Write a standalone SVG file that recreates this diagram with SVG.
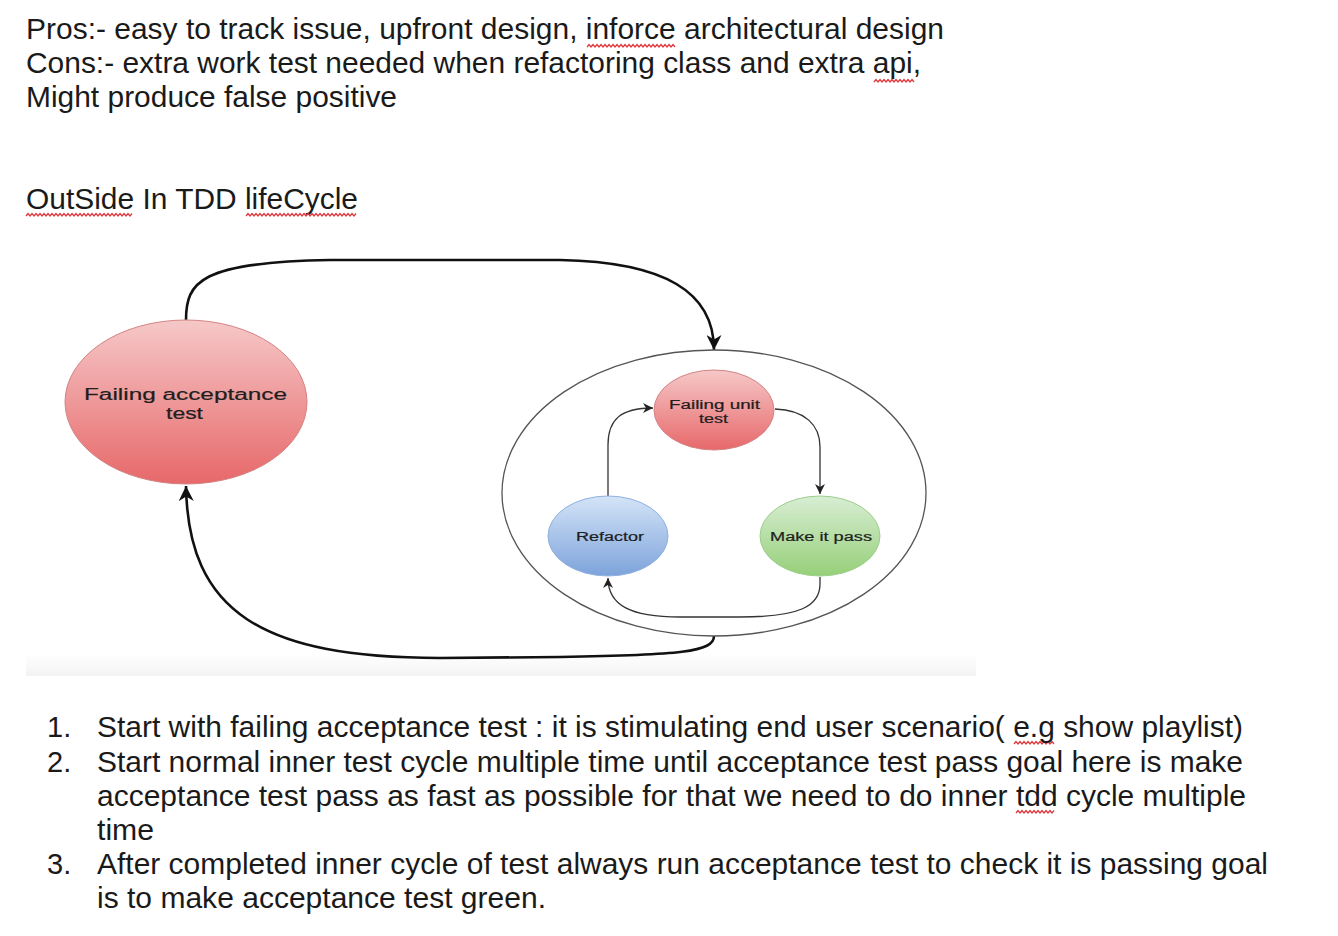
<svg xmlns="http://www.w3.org/2000/svg" width="1338" height="936" viewBox="0 0 1338 936">
<style>
.doc{font-family:"Liberation Sans",Arial,Helvetica,sans-serif;font-size:29px;fill:#1a1a1a}
.lbl{font-family:"Liberation Sans",Arial,Helvetica,sans-serif;fill:#1e1e1e;stroke:#1e1e1e;stroke-width:0.2}
.big{font-size:16px}
.sm{font-size:12px}
.outer{fill:none;stroke:#111;stroke-width:2.6}
.inner{fill:none;stroke:#333;stroke-width:1.3}
.sq{fill:none;stroke:#e0393e;stroke-width:1.3}
</style>
<defs>
<linearGradient id="gr" x1="0" y1="0" x2="0" y2="1"><stop offset="0" stop-color="#f6c8c8"/><stop offset="1" stop-color="#e7686a"/></linearGradient>
<linearGradient id="gb" x1="0" y1="0" x2="0" y2="1"><stop offset="0" stop-color="#d4e4f7"/><stop offset="1" stop-color="#7da3db"/></linearGradient>
<linearGradient id="gg" x1="0" y1="0" x2="0" y2="1"><stop offset="0" stop-color="#d8eed4"/><stop offset="1" stop-color="#96cf78"/></linearGradient>
<linearGradient id="band" x1="0" y1="0" x2="0" y2="1"><stop offset="0" stop-color="#ffffff"/><stop offset="1" stop-color="#f3f3f3"/></linearGradient>
<marker id="ah" viewBox="0 0 10 10" refX="10" refY="5" markerWidth="15" markerHeight="15" markerUnits="userSpaceOnUse" orient="auto"><path d="M0,0 L10,5 L0,10 L3,5 z" fill="#111"/></marker>
<marker id="ahs" viewBox="0 0 10 10" refX="10" refY="5" markerWidth="10" markerHeight="10" markerUnits="userSpaceOnUse" orient="auto"><path d="M0,0 L10,5 L0,10 L3,5 z" fill="#222"/></marker>
</defs>
<rect width="1338" height="936" fill="#ffffff"/>

<g id="header-text">
<text class="doc" x="26" y="39" textLength="918" lengthAdjust="spacingAndGlyphs">Pros:- easy to track issue, upfront design, inforce architectural design</text>
<text class="doc" x="26" y="73" textLength="895" lengthAdjust="spacingAndGlyphs">Cons:- extra work test needed when refactoring class and extra api,</text>
<text class="doc" x="26" y="107" textLength="371" lengthAdjust="spacingAndGlyphs">Might produce false positive</text>
<text class="doc" x="26" y="209" textLength="332" lengthAdjust="spacingAndGlyphs">OutSide In TDD lifeCycle</text>
</g>

<g id="spellcheck">
<path class="sq" d="M587,47 l2,-2.5 l2,2.5 l2,-2.5 l2,2.5 l2,-2.5 l2,2.5 l2,-2.5 l2,2.5 l2,-2.5 l2,2.5 l2,-2.5 l2,2.5 l2,-2.5 l2,2.5 l2,-2.5 l2,2.5 l2,-2.5 l2,2.5 l2,-2.5 l2,2.5 l2,-2.5 l2,2.5 l2,-2.5 l2,2.5 l2,-2.5 l2,2.5 l2,-2.5 l2,2.5 l2,-2.5 l2,2.5 l2,-2.5 l2,2.5 l2,-2.5 l2,2.5 l2,-2.5 l2,2.5 l2,-2.5 l2,2.5 l2,-2.5 l2,2.5 l2,-2.5 l2,2.5 l2,-2.5 l2,2.5"/>
<path class="sq" d="M874,82 l2,-2.5 l2,2.5 l2,-2.5 l2,2.5 l2,-2.5 l2,2.5 l2,-2.5 l2,2.5 l2,-2.5 l2,2.5 l2,-2.5 l2,2.5 l2,-2.5 l2,2.5 l2,-2.5 l2,2.5 l2,-2.5 l2,2.5 l2,-2.5 l2,2.5"/>
<path class="sq" d="M26,216 l2,-2.5 l2,2.5 l2,-2.5 l2,2.5 l2,-2.5 l2,2.5 l2,-2.5 l2,2.5 l2,-2.5 l2,2.5 l2,-2.5 l2,2.5 l2,-2.5 l2,2.5 l2,-2.5 l2,2.5 l2,-2.5 l2,2.5 l2,-2.5 l2,2.5 l2,-2.5 l2,2.5 l2,-2.5 l2,2.5 l2,-2.5 l2,2.5 l2,-2.5 l2,2.5 l2,-2.5 l2,2.5 l2,-2.5 l2,2.5 l2,-2.5 l2,2.5 l2,-2.5 l2,2.5 l2,-2.5 l2,2.5 l2,-2.5 l2,2.5 l2,-2.5 l2,2.5 l2,-2.5 l2,2.5 l2,-2.5 l2,2.5 l2,-2.5 l2,2.5 l2,-2.5 l2,2.5 l2,-2.5 l2,2.5 l2,-2.5"/>
<path class="sq" d="M246,216 l2,-2.5 l2,2.5 l2,-2.5 l2,2.5 l2,-2.5 l2,2.5 l2,-2.5 l2,2.5 l2,-2.5 l2,2.5 l2,-2.5 l2,2.5 l2,-2.5 l2,2.5 l2,-2.5 l2,2.5 l2,-2.5 l2,2.5 l2,-2.5 l2,2.5 l2,-2.5 l2,2.5 l2,-2.5 l2,2.5 l2,-2.5 l2,2.5 l2,-2.5 l2,2.5 l2,-2.5 l2,2.5 l2,-2.5 l2,2.5 l2,-2.5 l2,2.5 l2,-2.5 l2,2.5 l2,-2.5 l2,2.5 l2,-2.5 l2,2.5 l2,-2.5 l2,2.5 l2,-2.5 l2,2.5 l2,-2.5 l2,2.5 l2,-2.5 l2,2.5 l2,-2.5 l2,2.5 l2,-2.5 l2,2.5 l2,-2.5 l2,2.5 l2,-2.5"/>
<path class="sq" d="M1014,744 l2,-2.5 l2,2.5 l2,-2.5 l2,2.5 l2,-2.5 l2,2.5 l2,-2.5 l2,2.5 l2,-2.5 l2,2.5 l2,-2.5 l2,2.5 l2,-2.5 l2,2.5 l2,-2.5 l2,2.5 l2,-2.5 l2,2.5 l2,-2.5 l2,2.5"/>
<path class="sq" d="M1016,813 l2,-2.5 l2,2.5 l2,-2.5 l2,2.5 l2,-2.5 l2,2.5 l2,-2.5 l2,2.5 l2,-2.5 l2,2.5 l2,-2.5 l2,2.5 l2,-2.5 l2,2.5 l2,-2.5 l2,2.5 l2,-2.5 l2,2.5 l2,-2.5"/>
</g>

<rect x="26" y="654" width="950" height="22" fill="url(#band)"/>

<g id="connectors">
<path class="outer" marker-end="url(#ah)" d="M186,320 C186,282 200,262 330,260 L560,260 C665,262 714,292 714,350"/>
<path class="outer" marker-end="url(#ah)" d="M714,636 C714,652 680,655 560,657 L440,658 C262,658 188,612 186,486"/>
<path class="inner" marker-end="url(#ahs)" d="M608,496 L608,445 C608,420 620,408 653,408"/>
<path class="inner" marker-end="url(#ahs)" d="M775,409 C805,410 820,425 820,447 L820,494"/>
<path class="inner" marker-end="url(#ahs)" d="M820,577 L820,584 C820,606 800,617 740,617 L680,617 C630,617 608,605 608,578"/>
</g>

<g id="inner-cycle">
<ellipse cx="714" cy="493" rx="212" ry="143" fill="none" stroke="#555" stroke-width="1.3"/>
</g>

<g id="failing-acceptance-test">
<ellipse cx="186" cy="402" rx="121" ry="82" fill="url(#gr)" stroke="#d48383" stroke-width="1"/>
<text class="lbl big" x="84" y="400" textLength="203" lengthAdjust="spacingAndGlyphs">Failing acceptance</text>
<text class="lbl big" x="166" y="419" textLength="37" lengthAdjust="spacingAndGlyphs">test</text>
</g>

<g id="failing-unit-test">
<ellipse cx="714" cy="410" rx="60" ry="40" fill="url(#gr)" stroke="#d48383" stroke-width="1"/>
<text class="lbl sm" x="669" y="409" textLength="91" lengthAdjust="spacingAndGlyphs">Failing unit</text>
<text class="lbl sm" x="699" y="423" textLength="29" lengthAdjust="spacingAndGlyphs">test</text>
</g>

<g id="refactor">
<ellipse cx="608" cy="536" rx="60" ry="40" fill="url(#gb)" stroke="#8fb1e0" stroke-width="1"/>
<text class="lbl sm" x="576" y="541" textLength="68" lengthAdjust="spacingAndGlyphs">Refactor</text>
</g>

<g id="make-it-pass">
<ellipse cx="820" cy="536" rx="60" ry="40" fill="url(#gg)" stroke="#9ccf8c" stroke-width="1"/>
<text class="lbl sm" x="770" y="541" textLength="102" lengthAdjust="spacingAndGlyphs">Make it pass</text>
</g>

<g id="steps-text">
<text class="doc" x="47" y="737">1.</text>
<text class="doc" x="97" y="737" textLength="1146" lengthAdjust="spacingAndGlyphs">Start with failing acceptance test : it is stimulating end user scenario( e.g show playlist)</text>
<text class="doc" x="47" y="772">2.</text>
<text class="doc" x="97" y="772" textLength="1146" lengthAdjust="spacingAndGlyphs">Start normal inner test cycle multiple time until acceptance test pass goal here is make</text>
<text class="doc" x="97" y="806" textLength="1149" lengthAdjust="spacingAndGlyphs">acceptance test pass as fast as possible for that we need to do inner tdd cycle multiple</text>
<text class="doc" x="97" y="840" textLength="57" lengthAdjust="spacingAndGlyphs">time</text>
<text class="doc" x="47" y="874">3.</text>
<text class="doc" x="97" y="874" textLength="1171" lengthAdjust="spacingAndGlyphs">After completed inner cycle of test always run acceptance test to check it is passing goal</text>
<text class="doc" x="97" y="908" textLength="449" lengthAdjust="spacingAndGlyphs">is to make acceptance test green.</text>
</g>
</svg>
